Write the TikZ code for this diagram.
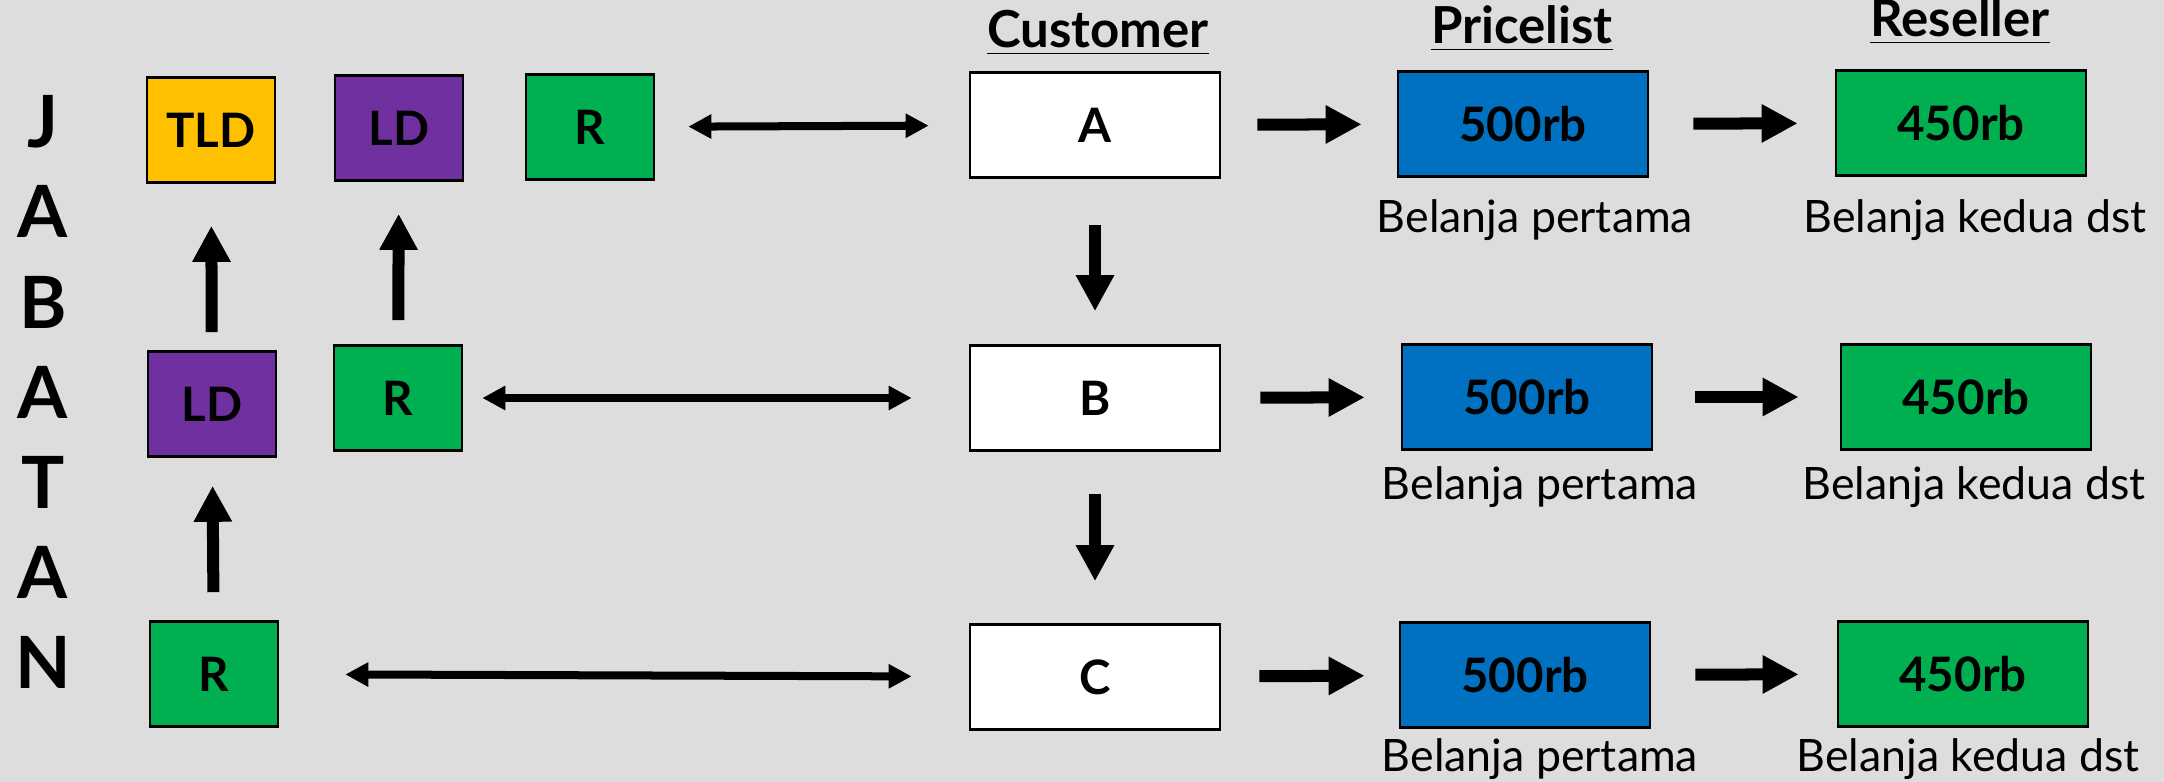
\documentclass[tikz,border=0pt]{standalone}
\usepackage{fontspec}
\setmainfont{Lato}
\usepackage{xcolor}
\usetikzlibrary{arrows.meta}

\definecolor{bggray}{HTML}{DDDDDD}
\definecolor{tldyellow}{HTML}{FFC000}
\definecolor{ldpurple}{HTML}{7030A0}
\definecolor{rgreen}{HTML}{00B050}
\definecolor{plblue}{HTML}{0070C0}

\begin{document}
\begin{tikzpicture}[x=0.01cm, y=-0.01cm,
  box/.style={draw, line width=0.025cm, inner sep=0pt, minimum height=1.05cm, font=\fontsize{13.5}{15}\selectfont\bfseries},
  small box/.style={box, minimum width=1.28cm},
  wide box/.style={box, minimum width=2.5cm},
  fat arrow/.style={line width=0.12cm, -{Triangle[length=0.36cm,width=0.36cm]}},
  link/.style={line width=0.08cm, {Triangle[length=0.23cm,width=0.23cm]}-{Triangle[length=0.23cm,width=0.23cm]}},
  note/.style={anchor=base, font=\fontsize{12.7}{15}\selectfont},
  head/.style={anchor=base, font=\fontsize{14.5}{17}\selectfont\bfseries},
  jab/.style={anchor=base, font=\fontsize{20.5}{24}\selectfont\bfseries}]

\path[use as bounding box, fill=bggray] (0,0) rectangle (2164,782);

% jabatan
\foreach \ch [count=\i from 0] in {J,A,B,A,T,A,N}
  \node[jab] (j\i) at (43,148+90*\i) {\ch};

\node[small box, fill=tldyellow] (tld) at (211,130) {TLD};
\node[small box, fill=ldpurple] (ld1) at (399,128) {LD};
\node[small box, fill=rgreen] (r1) at (590,127) {R};
\node[small box, fill=ldpurple] (ld2) at (212,404) {LD};
\node[small box, fill=rgreen] (r2) at (398,398) {R};
\node[small box, fill=rgreen] (r3) at (214,674) {R};

% customer
\node[head] (hc) at (1098,48) {\underline{Customer}};
\node[wide box, fill=white] (a) at (1095,125) {A};
\node[wide box, fill=white] (b) at (1095,398) {B};
\node[wide box, fill=white] (c) at (1095,677) {C};

% pricelist
\node[head] (hp) at (1522,44) {\underline{Pricelist}};
\node[wide box, fill=plblue] (p1) at (1523,124) {500rb};
\node[wide box, fill=plblue] (p2) at (1527,397) {500rb};
\node[wide box, fill=plblue] (p3) at (1525,675) {500rb};
\node[note] (np1) at (1535,232) {Belanja pertama};
\node[note] (np2) at (1540,499) {Belanja pertama};
\node[note] (np3) at (1540,771) {Belanja pertama};

% reseller
\node[head] (hr) at (1960,37) {\underline{Reseller}};
\node[wide box, fill=rgreen] (s1) at (1961,123) {450rb};
\node[wide box, fill=rgreen] (s2) at (1966,397) {450rb};
\node[wide box, fill=rgreen] (s3) at (1963,674) {450rb};
\node[note] (ns1) at (1975,232) {Belanja kedua dst};
\node[note] (ns2) at (1974,499) {Belanja kedua dst};
\node[note] (ns3) at (1968,771) {Belanja kedua dst};

\path
(ld2) edge[fat arrow, shorten <=0.18cm, shorten >=0.42cm] (tld)
(r2) edge[fat arrow, shorten <=0.24cm, shorten >=0.32cm] (ld1)
(r3) edge[fat arrow, shorten <=0.28cm, shorten >=0.28cm] (ld2)
(r1) edge[link, shorten <=0.33cm, shorten >=0.40cm] (a)
(r2) edge[link, shorten <=0.19cm, shorten >=0.57cm] (b)
(r3) edge[link, shorten <=0.66cm, shorten >=0.57cm] (c)
(a) edge[fat arrow, shorten <=0.46cm, shorten >=0.33cm] (b)
(b) edge[fat arrow, shorten <=0.42cm, shorten >=0.42cm] (c)
(a) edge[fat arrow, shorten <=0.36cm, shorten >=0.35cm] (p1)
(b) edge[fat arrow, shorten <=0.39cm, shorten >=0.36cm] (p2)
(c) edge[fat arrow, shorten <=0.38cm, shorten >=0.34cm] (p3)
(p1) edge[fat arrow, shorten <=0.44cm, shorten >=0.37cm] (s1)
(p2) edge[fat arrow, shorten <=0.42cm, shorten >=0.41cm] (s2)
(p3) edge[fat arrow, shorten <=0.44cm, shorten >=0.38cm] (s3);
\end{tikzpicture}
\end{document}
